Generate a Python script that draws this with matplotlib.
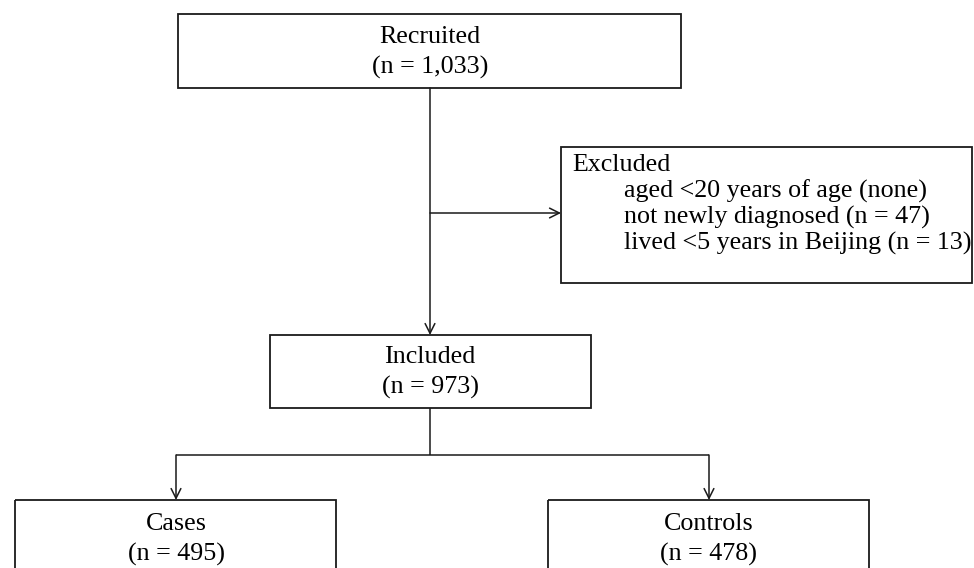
import matplotlib
matplotlib.use("Agg")
import matplotlib.pyplot as plt
from matplotlib.patches import Rectangle

plt.rcParams['font.family'] = ['Liberation Serif', 'DejaVu Serif']

# Data (flow counts)
recruited_n = "1,033"
included_n = "973"
cases_n = "495"
controls_n = "478"
excluded_title = "Excluded"
excluded_items = ["aged <20 years of age (none)",
                  "not newly diagnosed (n = 47)",
                  "lived <5 years in Beijing (n = 13)"]

W, H = 974, 568
fig = plt.figure(figsize=(W/100, H/100), dpi=100)
ax = fig.add_axes([0, 0, 1, 1])
ax.set_xlim(0, W)
ax.set_ylim(H, 0)
ax.axis('off')

FS = 18.7
LW = 1.3
col = '#1a1a1a'

def box(x0, y0, x1, y1):
    ax.add_patch(Rectangle((x0, y0), x1 - x0, y1 - y0, fill=False,
                           edgecolor=col, linewidth=LW))

def arrow(x0, y0, x1, y1):
    ax.annotate('', xy=(x1, y1), xytext=(x0, y0),
                arrowprops=dict(arrowstyle='->,head_length=0.5,head_width=0.25',
                                color=col, lw=1.1,
                                mutation_scale=14, shrinkA=0, shrinkB=0))

def line(xs, ys):
    ax.plot(xs, ys, color=col, lw=1.1, solid_capstyle='butt')

# Recruited
box(178, 14, 681, 88)
ax.text(430, 37, "Recruited", ha='center', va='center', fontsize=FS)
ax.text(430, 67, f"(n = {recruited_n})", ha='center', va='center', fontsize=FS)

# main vertical arrow
arrow(430, 88, 430, 335)
# side arrow to exclusion
arrow(430, 213, 561, 213)

# Excluded box
box(561, 147, 972, 283)
ax.text(572, 165, excluded_title, ha='left', va='center', fontsize=FS)
for i, t in enumerate(excluded_items):
    ax.text(624, 191 + 26 * i, t, ha='left', va='center', fontsize=FS)

# Included
box(270, 335, 591, 408)
ax.text(430, 357, "Included", ha='center', va='center', fontsize=FS)
ax.text(430, 387, f"(n = {included_n})", ha='center', va='center', fontsize=FS)

# split
line([430, 430], [408, 455])
line([176, 709], [455, 455])
arrow(176, 455, 176, 500)
arrow(709, 455, 709, 500)

# Cases / Controls
box(15, 500, 336, 600)
ax.text(176, 524, "Cases", ha='center', va='center', fontsize=FS)
ax.text(176, 554, f"(n = {cases_n})", ha='center', va='center', fontsize=FS)

box(548, 500, 869, 600)
ax.text(709, 524, "Controls", ha='center', va='center', fontsize=FS)
ax.text(709, 554, f"(n = {controls_n})", ha='center', va='center', fontsize=FS)

fig.savefig("out.png", dpi=100, facecolor='white')
